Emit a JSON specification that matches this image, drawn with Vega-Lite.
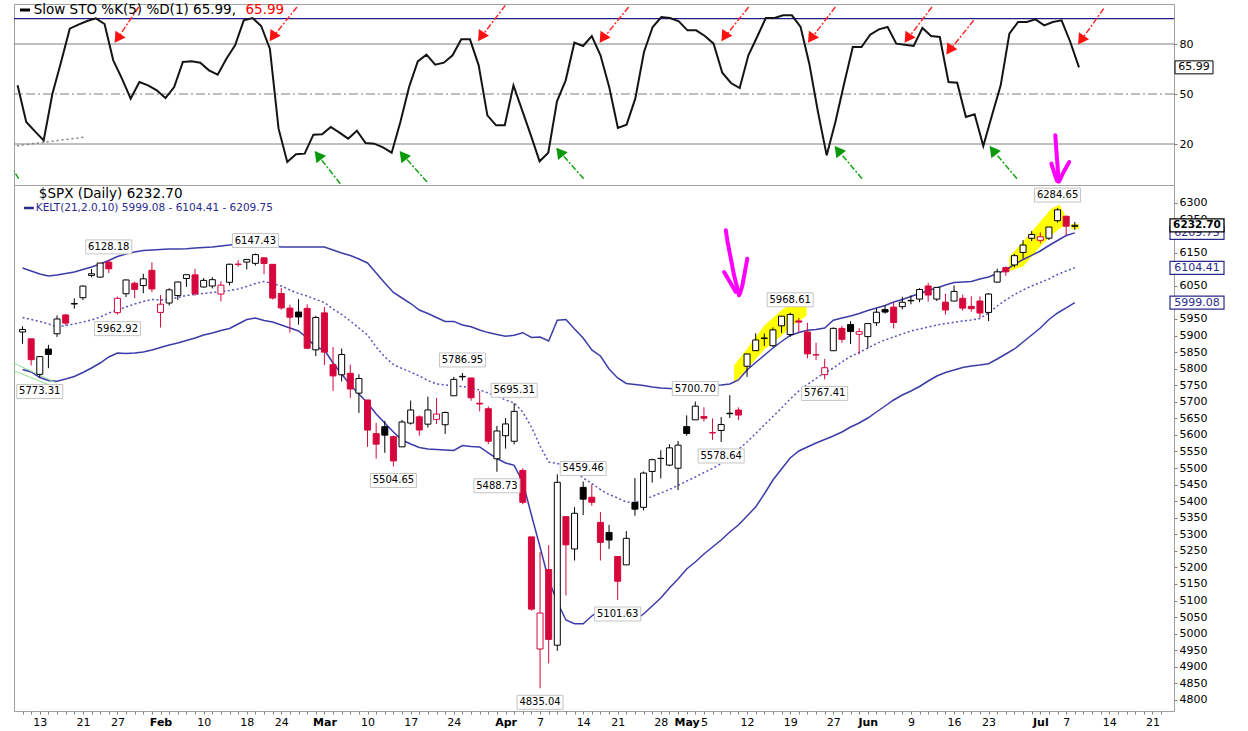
{
  "$schema": "https://vega.github.io/schema/vega-lite/v6.json",
  "background": "white",
  "padding": {"left": 12, "top": 2, "right": 0, "bottom": 0},
  "bounds": "flush",
  "spacing": 0,
  "config": {
    "font": "DejaVu Sans",
    "view": {"stroke": "#a0a0a0"},
    "axis": {"labelFont": "DejaVu Sans", "labelFontSize": 11, "labelColor": "#000000", "tickColor": "#808080", "domain": false, "grid": false, "labelOverlap": false},
    "axisX": {"labelOverlap": false, "labelFlush": false, "labelBound": false},
    "axisY": {"labelOverlap": false, "labelFlush": false, "labelBound": false}
  },
  "datasets": {
    "spx": [
      {"i":0,"d":"2025-01-08","o":5910.7,"h":5927.9,"l":5874.8,"c":5918.25,"pc":5909.03,"k":55.2,"ku":6103.8,"km":5954.4,"kl":5797.4},
      {"i":1,"d":"2025-01-10","o":5890.0,"h":5890.5,"l":5809.4,"c":5827.04,"pc":5918.25,"k":33.2,"ku":6094.7,"km":5948.3,"kl":5789.9},
      {"i":2,"d":"2025-01-13","o":5782.8,"h":5838.2,"l":5773.31,"c":5836.22,"pc":5827.04,"k":27.6,"ku":6085.7,"km":5942.3,"kl":5773.3},
      {"i":3,"d":"2025-01-14","o":5859.0,"h":5871.9,"l":5801.3,"c":5842.91,"pc":5836.22,"k":22.2,"ku":6079.6,"km":5934.8,"kl":5764.2},
      {"i":4,"d":"2025-01-15","o":5905.2,"h":5960.6,"l":5895.7,"c":5949.91,"pc":5842.91,"k":50,"ku":6082.7,"km":5925.7,"kl":5761.8},
      {"i":5,"d":"2025-01-16","o":5962.0,"h":5964.7,"l":5930.9,"c":5937.34,"pc":5949.91,"k":69.2,"ku":6087.2,"km":5930.2,"kl":5768.7},
      {"i":6,"d":"2025-01-17","o":5995.0,"h":6012.0,"l":5981.0,"c":5996.66,"pc":5937.34,"k":89.2,"ku":6091.7,"km":5934.8,"kl":5776.3},
      {"i":7,"d":"2025-01-21","o":6014.1,"h":6051.5,"l":6006.9,"c":6049.24,"pc":5996.66,"k":91.6,"ku":6099.3,"km":5940.8,"kl":5788.4},
      {"i":8,"d":"2025-01-22","o":6081.4,"h":6100.8,"l":6076.1,"c":6086.37,"pc":6049.24,"k":93.8,"ku":6106.8,"km":5946.8,"kl":5801.9},
      {"i":9,"d":"2025-01-23","o":6076.3,"h":6118.7,"l":6074.7,"c":6118.71,"pc":6086.37,"k":95.4,"ku":6115.9,"km":5955.9,"kl":5817},
      {"i":10,"d":"2025-01-24","o":6121.4,"h":6128.18,"l":6088.7,"c":6101.24,"pc":6118.71,"k":92,"ku":6126.4,"km":5968,"kl":5835.2},
      {"i":11,"d":"2025-01-27","o":5969.0,"h":6017.2,"l":5962.92,"c":6012.28,"pc":6101.24,"k":70.2,"ku":6138.5,"km":5977,"kl":5847.2},
      {"i":12,"d":"2025-01-28","o":6026.0,"h":6069.1,"l":6016.3,"c":6067.70,"pc":6012.28,"k":59.2,"ku":6146.1,"km":5986.1,"kl":5845.7},
      {"i":13,"d":"2025-01-29","o":6057.7,"h":6062.8,"l":6012.9,"c":6039.31,"pc":6067.70,"k":47.2,"ku":6152.1,"km":5995.1,"kl":5847.2},
      {"i":14,"d":"2025-01-30","o":6050.8,"h":6086.6,"l":6027.5,"c":6071.17,"pc":6039.31,"k":57.2,"ku":6156.6,"km":6002.7,"kl":5850.2},
      {"i":15,"d":"2025-01-31","o":6096.8,"h":6120.9,"l":6030.9,"c":6040.53,"pc":6071.17,"k":55.2,"ku":6158.1,"km":6008.7,"kl":5856.3},
      {"i":16,"d":"2025-02-03","o":5969.7,"h":6022.1,"l":5923.9,"c":5994.57,"pc":6040.53,"k":52.2,"ku":6159.6,"km":6007.2,"kl":5863.8},
      {"i":17,"d":"2025-02-04","o":5998.1,"h":6042.5,"l":5990.9,"c":6037.88,"pc":5994.57,"k":47.6,"ku":6161.1,"km":6008.7,"kl":5871.4},
      {"i":18,"d":"2025-02-05","o":6020.5,"h":6062.9,"l":6007.1,"c":6061.48,"pc":6037.88,"k":54.2,"ku":6161.1,"km":6014.8,"kl":5877.4},
      {"i":19,"d":"2025-02-06","o":6072.2,"h":6084.0,"l":6046.8,"c":6083.57,"pc":6061.48,"k":69.2,"ku":6162.1,"km":6020.8,"kl":5885},
      {"i":20,"d":"2025-02-07","o":6083.1,"h":6101.3,"l":6019.9,"c":6025.99,"pc":6083.57,"k":69.6,"ku":6164.2,"km":6023.8,"kl":5892.5},
      {"i":21,"d":"2025-02-10","o":6046.4,"h":6073.4,"l":6044.8,"c":6066.44,"pc":6025.99,"k":68.8,"ku":6165.7,"km":6026.8,"kl":5901.6},
      {"i":22,"d":"2025-02-11","o":6049.3,"h":6076.3,"l":6042.3,"c":6068.50,"pc":6066.44,"k":64.2,"ku":6167.2,"km":6029.8,"kl":5907.6},
      {"i":23,"d":"2025-02-12","o":6025.1,"h":6063.6,"l":6003.0,"c":6051.97,"pc":6068.50,"k":61.6,"ku":6170.2,"km":6032.9,"kl":5915.1},
      {"i":24,"d":"2025-02-13","o":6060.6,"h":6116.9,"l":6051.0,"c":6115.07,"pc":6051.97,"k":71.2,"ku":6173.2,"km":6035.9,"kl":5921.2},
      {"i":25,"d":"2025-02-14","o":6115.5,"h":6127.5,"l":6107.6,"c":6114.63,"pc":6115.07,"k":79.2,"ku":6177.1,"km":6040.4,"kl":5934.8},
      {"i":26,"d":"2025-02-18","o":6121.6,"h":6129.6,"l":6099.5,"c":6129.58,"pc":6114.63,"k":94.2,"ku":6178.4,"km":6048,"kl":5948.3},
      {"i":27,"d":"2025-02-19","o":6117.8,"h":6147.43,"l":6111.2,"c":6144.15,"pc":6129.58,"k":95.6,"ku":6179.3,"km":6057,"kl":5952.9},
      {"i":28,"d":"2025-02-20","o":6134.5,"h":6134.5,"l":6084.6,"c":6117.52,"pc":6144.15,"k":90.8,"ku":6176.2,"km":6063,"kl":5945.3},
      {"i":29,"d":"2025-02-21","o":6114.8,"h":6114.8,"l":6008.6,"c":6013.13,"pc":6117.52,"k":77.2,"ku":6171.7,"km":6057,"kl":5940.8},
      {"i":30,"d":"2025-02-24","o":6026.7,"h":6043.7,"l":5977.8,"c":5983.25,"pc":6013.13,"k":29.2,"ku":6167.2,"km":6049.5,"kl":5931.7},
      {"i":31,"d":"2025-02-25","o":5982.7,"h":5992.7,"l":5908.5,"c":5955.25,"pc":5983.25,"k":9.2,"ku":6167.2,"km":6037.4,"kl":5922.7},
      {"i":32,"d":"2025-02-26","o":5970.9,"h":6009.8,"l":5932.7,"c":5956.06,"pc":5955.25,"k":13.8,"ku":6167.2,"km":6026.8,"kl":5913.6},
      {"i":33,"d":"2025-02-27","o":5981.9,"h":5994.0,"l":5858.8,"c":5861.57,"pc":5956.06,"k":14.2,"ku":6167.2,"km":6019.3,"kl":5892.5},
      {"i":34,"d":"2025-02-28","o":5856.7,"h":5959.4,"l":5837.7,"c":5954.50,"pc":5861.57,"k":25.6,"ku":6167.2,"km":6008.7,"kl":5865.3},
      {"i":35,"d":"2025-03-03","o":5968.3,"h":5986.1,"l":5810.9,"c":5849.72,"pc":5954.50,"k":25.8,"ku":6167.2,"km":5999.7,"kl":5856.3},
      {"i":36,"d":"2025-03-04","o":5811.9,"h":5865.1,"l":5732.6,"c":5778.15,"pc":5849.72,"k":30.2,"ku":6158.1,"km":5980,"kl":5817},
      {"i":37,"d":"2025-03-05","o":5781.4,"h":5860.6,"l":5761.3,"c":5842.63,"pc":5778.15,"k":26.8,"ku":6149.1,"km":5963.4,"kl":5783.8},
      {"i":38,"d":"2025-03-06","o":5785.9,"h":5812.1,"l":5711.6,"c":5738.52,"pc":5842.63,"k":23.2,"ku":6141.5,"km":5943.8,"kl":5750.6},
      {"i":39,"d":"2025-03-07","o":5726.0,"h":5783.0,"l":5666.3,"c":5770.20,"pc":5738.52,"k":28,"ku":6131,"km":5922.7,"kl":5723.5},
      {"i":40,"d":"2025-03-10","o":5705.4,"h":5705.4,"l":5564.0,"c":5614.56,"pc":5770.20,"k":20.6,"ku":6118.9,"km":5901.6,"kl":5696.3},
      {"i":41,"d":"2025-03-11","o":5603.7,"h":5636.3,"l":5528.4,"c":5572.07,"pc":5614.56,"k":20.2,"ku":6088.7,"km":5865.3,"kl":5663.1},
      {"i":42,"d":"2025-03-12","o":5624.8,"h":5642.2,"l":5546.1,"c":5599.30,"pc":5572.07,"k":18,"ku":6058.5,"km":5835.2,"kl":5635.9},
      {"i":43,"d":"2025-03-13","o":5594.5,"h":5597.8,"l":5504.65,"c":5521.52,"pc":5599.30,"k":14.8,"ku":6029.8,"km":5812.5,"kl":5608.8},
      {"i":44,"d":"2025-03-14","o":5563.9,"h":5645.3,"l":5563.9,"c":5638.94,"pc":5521.52,"k":33.2,"ku":6013.2,"km":5800.4,"kl":5584.6},
      {"i":45,"d":"2025-03-17","o":5635.6,"h":5703.5,"l":5631.1,"c":5675.12,"pc":5638.94,"k":54.2,"ku":5996.6,"km":5789.9,"kl":5572.5},
      {"i":46,"d":"2025-03-18","o":5654.5,"h":5659.0,"l":5597.8,"c":5614.66,"pc":5675.12,"k":69.6,"ku":5977,"km":5777.8,"kl":5562},
      {"i":47,"d":"2025-03-19","o":5632.4,"h":5715.3,"l":5622.2,"c":5675.29,"pc":5614.66,"k":73.6,"ku":5966.5,"km":5764.2,"kl":5557.4},
      {"i":48,"d":"2025-03-20","o":5646.9,"h":5711.2,"l":5632.6,"c":5662.89,"pc":5675.29,"k":67.6,"ku":5954.4,"km":5753.7,"kl":5555.9},
      {"i":49,"d":"2025-03-21","o":5630.7,"h":5670.8,"l":5603.1,"c":5667.56,"pc":5662.89,"k":68.8,"ku":5942.3,"km":5750.6,"kl":5554.4},
      {"i":50,"d":"2025-03-24","o":5718.1,"h":5775.1,"l":5718.1,"c":5767.57,"pc":5667.56,"k":73.2,"ku":5942.6,"km":5747.6,"kl":5552.9},
      {"i":51,"d":"2025-03-25","o":5775.1,"h":5786.95,"l":5764.0,"c":5776.65,"pc":5767.57,"k":82.8,"ku":5931.7,"km":5746.1,"kl":5568},
      {"i":52,"d":"2025-03-26","o":5771.7,"h":5772.4,"l":5703.0,"c":5712.20,"pc":5776.65,"k":82.8,"ku":5926.6,"km":5741.6,"kl":5565},
      {"i":53,"d":"2025-03-27","o":5695.6,"h":5732.3,"l":5670.9,"c":5693.31,"pc":5712.20,"k":67.2,"ku":5916.7,"km":5735.5,"kl":5563.5},
      {"i":54,"d":"2025-03-28","o":5679.0,"h":5685.9,"l":5572.4,"c":5580.94,"pc":5693.31,"k":37.2,"ku":5908.8,"km":5726.5,"kl":5545.4},
      {"i":55,"d":"2025-03-31","o":5527.9,"h":5627.0,"l":5488.73,"c":5611.85,"pc":5580.94,"k":31.2,"ku":5903.1,"km":5717.4,"kl":5528.8},
      {"i":56,"d":"2025-04-01","o":5597.5,"h":5650.6,"l":5558.5,"c":5633.07,"pc":5611.85,"k":31.2,"ku":5897.6,"km":5705.4,"kl":5515.2},
      {"i":57,"d":"2025-04-02","o":5580.8,"h":5695.31,"l":5571.5,"c":5670.97,"pc":5633.07,"k":55.2,"ku":5900.7,"km":5696.3,"kl":5508.2},
      {"i":58,"d":"2025-04-03","o":5492.7,"h":5499.5,"l":5390.8,"c":5396.52,"pc":5670.97,"k":40.2,"ku":5908.5,"km":5669.1,"kl":5457.8},
      {"i":59,"d":"2025-04-04","o":5292.1,"h":5292.1,"l":5069.9,"c":5074.08,"pc":5396.52,"k":25.2,"ku":5894,"km":5623.9,"kl":5358.2},
      {"i":60,"d":"2025-04-07","o":4953.8,"h":5246.6,"l":4835.04,"c":5062.25,"pc":5074.08,"k":9.6,"ku":5895.5,"km":5566.5,"kl":5261.6},
      {"i":61,"d":"2025-04-08","o":5193.6,"h":5267.5,"l":4910.4,"c":4982.77,"pc":5062.25,"k":14.8,"ku":5883.4,"km":5518.2,"kl":5162},
      {"i":62,"d":"2025-04-09","o":4965.3,"h":5481.3,"l":4948.4,"c":5456.90,"pc":4982.77,"k":45.6,"ku":5945.9,"km":5513.7,"kl":5095.6},
      {"i":63,"d":"2025-04-10","o":5353.2,"h":5353.2,"l":5115.3,"c":5268.05,"pc":5456.90,"k":58.2,"ku":5948.3,"km":5507.6,"kl":5041.3},
      {"i":64,"d":"2025-04-11","o":5255.6,"h":5381.5,"l":5220.8,"c":5363.36,"pc":5268.05,"k":80.8,"ku":5919.7,"km":5491,"kl":5030.1},
      {"i":65,"d":"2025-04-14","o":5441.6,"h":5459.46,"l":5358.0,"c":5405.97,"pc":5363.36,"k":78.8,"ku":5892.5,"km":5469.9,"kl":5030.1},
      {"i":66,"d":"2025-04-15","o":5411.9,"h":5450.4,"l":5386.4,"c":5396.63,"pc":5405.97,"k":84.8,"ku":5856.3,"km":5453.3,"kl":5053.4},
      {"i":67,"d":"2025-04-16","o":5335.8,"h":5367.2,"l":5220.8,"c":5275.70,"pc":5396.63,"k":73.2,"ku":5838.2,"km":5435.2,"kl":5071.5},
      {"i":68,"d":"2025-04-17","o":5305.5,"h":5328.3,"l":5255.6,"c":5282.70,"pc":5275.70,"k":54.2,"ku":5798.9,"km":5420.1,"kl":5074.5},
      {"i":69,"d":"2025-04-21","o":5232.9,"h":5232.9,"l":5101.63,"c":5158.20,"pc":5282.70,"k":29.6,"ku":5771.8,"km":5409.5,"kl":5065.4},
      {"i":70,"d":"2025-04-22","o":5207.7,"h":5309.6,"l":5207.7,"c":5287.76,"pc":5158.20,"k":31.6,"ku":5755.2,"km":5397.5,"kl":5044.3},
      {"i":71,"d":"2025-04-23","o":5395.9,"h":5469.7,"l":5356.0,"c":5375.86,"pc":5287.76,"k":47.2,"ku":5752.1,"km":5396,"kl":5041.3},
      {"i":72,"d":"2025-04-24","o":5381.4,"h":5489.4,"l":5371.9,"c":5484.77,"pc":5375.86,"k":75.2,"ku":5749.1,"km":5403.5,"kl":5059.4},
      {"i":73,"d":"2025-04-25","o":5489.7,"h":5528.1,"l":5455.9,"c":5525.21,"pc":5484.77,"k":90.2,"ku":5744.6,"km":5414.1,"kl":5083.5},
      {"i":74,"d":"2025-04-28","o":5529.2,"h":5553.7,"l":5468.6,"c":5528.75,"pc":5525.21,"k":96.2,"ku":5741.6,"km":5424.6,"kl":5107.7},
      {"i":75,"d":"2025-04-29","o":5508.9,"h":5571.9,"l":5505.7,"c":5560.83,"pc":5528.75,"k":95.6,"ku":5740.1,"km":5435.2,"kl":5137.9},
      {"i":76,"d":"2025-04-30","o":5499.4,"h":5581.8,"l":5433.2,"c":5569.06,"pc":5560.83,"k":93.6,"ku":5738.6,"km":5447.3,"kl":5165},
      {"i":77,"d":"2025-05-01","o":5625.1,"h":5658.9,"l":5597.4,"c":5604.14,"pc":5569.06,"k":88.2,"ku":5738.6,"km":5460.9,"kl":5195.2},
      {"i":78,"d":"2025-05-02","o":5645.5,"h":5700.70,"l":5645.0,"c":5686.67,"pc":5604.14,"k":88.2,"ku":5740.1,"km":5472.9,"kl":5216.4},
      {"i":79,"d":"2025-05-05","o":5655.3,"h":5683.3,"l":5640.0,"c":5650.38,"pc":5686.67,"k":84.8,"ku":5744.6,"km":5486.5,"kl":5240.5},
      {"i":80,"d":"2025-05-06","o":5605.9,"h":5649.6,"l":5584.8,"c":5606.91,"pc":5650.38,"k":80.2,"ku":5749.1,"km":5498.6,"kl":5261.6},
      {"i":81,"d":"2025-05-07","o":5613.4,"h":5654.2,"l":5578.64,"c":5631.28,"pc":5606.91,"k":62.8,"ku":5750.6,"km":5513.7,"kl":5282.8},
      {"i":82,"d":"2025-05-08","o":5665.4,"h":5720.1,"l":5651.0,"c":5663.94,"pc":5631.28,"k":56.6,"ku":5753.7,"km":5534.8,"kl":5306.9},
      {"i":83,"d":"2025-05-09","o":5675.0,"h":5683.0,"l":5644.4,"c":5659.91,"pc":5663.94,"k":53.6,"ku":5765.7,"km":5555.9,"kl":5328},
      {"i":84,"d":"2025-05-12","o":5807.2,"h":5845.9,"l":5775.2,"c":5844.19,"pc":5659.91,"k":73.2,"ku":5795.9,"km":5578.6,"kl":5355.2},
      {"i":85,"d":"2025-05-13","o":5854.2,"h":5906.6,"l":5853.3,"c":5886.55,"pc":5844.19,"k":84.2,"ku":5818.5,"km":5604.2,"kl":5382.4},
      {"i":86,"d":"2025-05-14","o":5891.0,"h":5906.0,"l":5868.4,"c":5892.58,"pc":5886.55,"k":95.6,"ku":5840.3,"km":5629.9,"kl":5421.6},
      {"i":87,"d":"2025-05-15","o":5869.2,"h":5924.2,"l":5865.2,"c":5916.93,"pc":5892.58,"k":95.6,"ku":5862.3,"km":5655.6,"kl":5463.9},
      {"i":88,"d":"2025-05-16","o":5929.3,"h":5958.6,"l":5907.4,"c":5958.38,"pc":5916.93,"k":97.2,"ku":5881.9,"km":5681.2,"kl":5497.1},
      {"i":89,"d":"2025-05-19","o":5902.9,"h":5968.61,"l":5895.7,"c":5963.60,"pc":5958.38,"k":97.2,"ku":5900,"km":5708.4,"kl":5530.3},
      {"i":90,"d":"2025-05-20","o":5944.0,"h":5953.1,"l":5909.3,"c":5940.46,"pc":5963.60,"k":90.2,"ku":5909.1,"km":5732.5,"kl":5551.4},
      {"i":91,"d":"2025-05-21","o":5910.5,"h":5938.4,"l":5830.9,"c":5844.61,"pc":5940.46,"k":68.2,"ku":5915.7,"km":5752.1,"kl":5563.5},
      {"i":92,"d":"2025-05-22","o":5841.3,"h":5878.1,"l":5825.8,"c":5842.01,"pc":5844.61,"k":39.2,"ku":5918.2,"km":5770.3,"kl":5575.6},
      {"i":93,"d":"2025-05-23","o":5781.9,"h":5829.5,"l":5767.41,"c":5802.82,"pc":5842.01,"k":13.2,"ku":5922.7,"km":5786.9,"kl":5586.1},
      {"i":94,"d":"2025-05-27","o":5854.1,"h":5924.3,"l":5854.1,"c":5921.54,"pc":5802.82,"k":33.2,"ku":5945.9,"km":5801.9,"kl":5596.7},
      {"i":95,"d":"2025-05-28","o":5921.4,"h":5929.0,"l":5878.1,"c":5888.55,"pc":5921.54,"k":56.2,"ku":5952.9,"km":5820.1,"kl":5608.8},
      {"i":96,"d":"2025-05-29","o":5933.2,"h":5943.0,"l":5874.1,"c":5912.17,"pc":5888.55,"k":78.2,"ku":5958.9,"km":5836.7,"kl":5623.9},
      {"i":97,"d":"2025-05-30","o":5903.7,"h":5922.1,"l":5843.7,"c":5911.69,"pc":5912.17,"k":78.2,"ku":5966.5,"km":5848.7,"kl":5635.9},
      {"i":98,"d":"2025-06-02","o":5896.7,"h":5937.4,"l":5861.4,"c":5935.94,"pc":5911.69,"k":85.6,"ku":5975.5,"km":5862.3,"kl":5651},
      {"i":99,"d":"2025-06-03","o":5938.6,"h":5981.4,"l":5929.0,"c":5970.37,"pc":5935.94,"k":88.8,"ku":5983.1,"km":5875.9,"kl":5669.1},
      {"i":100,"d":"2025-06-04","o":5978.2,"h":5990.5,"l":5966.1,"c":5970.81,"pc":5970.37,"k":90.2,"ku":5990.6,"km":5886.5,"kl":5687.2},
      {"i":101,"d":"2025-06-05","o":5985.7,"h":5999.7,"l":5921.2,"c":5939.30,"pc":5970.81,"k":80.2,"ku":6001.2,"km":5895.5,"kl":5705.4},
      {"i":102,"d":"2025-06-06","o":5987.1,"h":6016.9,"l":5978.6,"c":6000.36,"pc":5939.30,"k":79.6,"ku":6008.7,"km":5904.6,"kl":5720.4},
      {"i":103,"d":"2025-06-09","o":6004.6,"h":6021.3,"l":5994.2,"c":6005.88,"pc":6000.36,"k":78.8,"ku":6017.8,"km":5913.6,"kl":5732.5},
      {"i":104,"d":"2025-06-10","o":6009.9,"h":6043.0,"l":6000.3,"c":6038.81,"pc":6005.88,"k":89.6,"ku":6026.8,"km":5919.7,"kl":5746.1},
      {"i":105,"d":"2025-06-11","o":6049.4,"h":6059.4,"l":6002.3,"c":6022.24,"pc":6038.81,"k":84.8,"ku":6035.9,"km":5925.7,"kl":5762.7},
      {"i":106,"d":"2025-06-12","o":6009.9,"h":6045.4,"l":6003.9,"c":6045.26,"pc":6022.24,"k":84.2,"ku":6043.4,"km":5931.7,"kl":5777.8},
      {"i":107,"d":"2025-06-13","o":6000.6,"h":6026.2,"l":5963.2,"c":5976.97,"pc":6045.26,"k":57.2,"ku":6052.5,"km":5935.7,"kl":5788.4},
      {"i":108,"d":"2025-06-16","o":6004.0,"h":6050.8,"l":6004.0,"c":6033.11,"pc":5976.97,"k":56.8,"ku":6059.7,"km":5939.9,"kl":5795.9},
      {"i":109,"d":"2025-06-17","o":6012.2,"h":6023.3,"l":5974.8,"c":5982.72,"pc":6033.11,"k":36.2,"ku":6061.5,"km":5943.8,"kl":5803.5},
      {"i":110,"d":"2025-06-18","o":5987.9,"h":6018.3,"l":5971.9,"c":5980.87,"pc":5982.72,"k":37.8,"ku":6063.3,"km":5946.8,"kl":5808},
      {"i":111,"d":"2025-06-20","o":6004.2,"h":6018.2,"l":5952.6,"c":5967.84,"pc":5980.87,"k":18.8,"ku":6070.6,"km":5951.4,"kl":5811},
      {"i":112,"d":"2025-06-23","o":5969.7,"h":6028.2,"l":5943.2,"c":6025.17,"pc":5967.84,"k":37.2,"ku":6076.6,"km":5968,"kl":5814.9},
      {"i":113,"d":"2025-06-24","o":6061.2,"h":6101.8,"l":6059.4,"c":6092.18,"pc":6025.17,"k":55.2,"ku":6087.2,"km":5989.1,"kl":5829.1},
      {"i":114,"d":"2025-06-25","o":6104.9,"h":6108.5,"l":6080.1,"c":6092.16,"pc":6092.18,"k":86.2,"ku":6097.8,"km":6007.2,"kl":5844.2},
      {"i":115,"d":"2025-06-26","o":6112.9,"h":6146.5,"l":6106.1,"c":6141.02,"pc":6092.16,"k":93.2,"ku":6114.4,"km":6023.8,"kl":5859.3},
      {"i":116,"d":"2025-06-27","o":6150.7,"h":6187.7,"l":6132.3,"c":6173.07,"pc":6141.02,"k":93.2,"ku":6129.5,"km":6037.4,"kl":5880.4},
      {"i":117,"d":"2025-06-30","o":6193.4,"h":6215.1,"l":6185.1,"c":6204.95,"pc":6173.07,"k":94.8,"ku":6142.1,"km":6049.5,"kl":5901.6},
      {"i":118,"d":"2025-07-01","o":6187.3,"h":6210.8,"l":6177.9,"c":6198.01,"pc":6204.95,"k":91.2,"ku":6155.1,"km":6060,"kl":5922.7},
      {"i":119,"d":"2025-07-02","o":6193.8,"h":6227.6,"l":6188.2,"c":6227.42,"pc":6198.01,"k":93.2,"ku":6171.7,"km":6070.6,"kl":5948.3},
      {"i":120,"d":"2025-07-03","o":6246.5,"h":6284.65,"l":6240.9,"c":6279.35,"pc":6227.42,"k":94.2,"ku":6186.8,"km":6084.2,"kl":5968},
      {"i":121,"d":"2025-07-07","o":6259.8,"h":6262.3,"l":6201.0,"c":6229.98,"pc":6279.35,"k":81.2,"ku":6201.9,"km":6094.7,"kl":5983.1},
      {"i":122,"d":"2025-07-08","o":6229.5,"h":6242.7,"l":6219.0,"c":6232.70,"pc":6229.98,"k":65.99,"ku":6209.75,"km":6104.41,"kl":5999.08}
    ],
    "hiLabels": [
      {"i":10,"p":6128.18,"t":"6128.18"},{"i":27,"p":6147.43,"t":"6147.43"},{"i":51,"p":5786.95,"t":"5786.95"},
      {"i":57,"p":5695.31,"t":"5695.31"},{"i":65,"p":5459.46,"t":"5459.46"},{"i":78,"p":5700.70,"t":"5700.70"},
      {"i":89,"p":5968.61,"t":"5968.61"},{"i":120,"p":6284.65,"t":"6284.65"}
    ],
    "loLabels": [
      {"i":2,"p":5773.31,"t":"5773.31"},{"i":11,"p":5962.92,"t":"5962.92"},{"i":43,"p":5504.65,"t":"5504.65"},
      {"i":55,"p":5488.73,"t":"5488.73"},{"i":60,"p":4835.04,"t":"4835.04"},{"i":69,"p":5101.63,"t":"5101.63"},
      {"i":81,"p":5578.64,"t":"5578.64"},{"i":93,"p":5767.41,"t":"5767.41"}
    ],
    "redArrows": [
      {"ti":13.92,"tv":102.2,"hi":11.23,"hv":81.2,"ci":11.61,"cv":84.2},
      {"ti":32.11,"tv":102.2,"hi":29.05,"hv":82.2,"ci":29.43,"cv":85.2},
      {"ti":56.06,"tv":103.2,"hi":53.0,"hv":82.2,"ci":53.38,"cv":85.2},
      {"ti":70.24,"tv":102.2,"hi":66.98,"hv":81.2,"ci":67.36,"cv":84.2},
      {"ti":84.03,"tv":102.2,"hi":80.97,"hv":82.2,"ci":81.35,"cv":85.2},
      {"ti":93.99,"tv":102.2,"hi":90.93,"hv":81.2,"ci":91.31,"cv":84.2},
      {"ti":105.1,"tv":102.2,"hi":102.03,"hv":81.2,"ci":102.41,"cv":84.2},
      {"ti":109.9,"tv":94.2,"hi":106.83,"hv":74.2,"ci":107.21,"cv":77.2},
      {"ti":124.84,"tv":101.2,"hi":121.97,"hv":80.2,"ci":122.35,"cv":83.2}
    ],
    "greenArrows": [
      {"ti":0.13,"tv":-0.8,"hi":-1.79,"hv":15.2},
      {"ti":37.09,"tv":-3.8,"hi":34.22,"hv":15.2,"ci":34.65,"cv":12.4},
      {"ti":47.06,"tv":-2.8,"hi":43.99,"hv":15.2,"ci":44.42,"cv":12.4},
      {"ti":65.07,"tv":-0.8,"hi":62.0,"hv":17.2,"ci":62.43,"cv":14.4},
      {"ti":97.06,"tv":-0.8,"hi":93.99,"hv":18.2,"ci":94.42,"cv":15.4},
      {"ti":114.87,"tv":-0.8,"hi":111.8,"hv":18.2,"ci":112.23,"cv":15.4}
    ],
    "magentaPrice": [
      {"g":"a","o":1,"i":81.54,"p":6217.6},{"g":"a","o":2,"i":81.74,"p":6182.3},{"g":"a","o":3,"i":82.12,"p":6131.9},
      {"g":"a","o":4,"i":82.49,"p":6081.8},{"g":"a","o":5,"i":82.89,"p":6041.3},{"g":"a","o":6,"i":83.07,"p":6021.4},
      {"g":"b","o":1,"i":81.34,"p":6091.7},{"g":"b","o":2,"i":82.69,"p":6031.3},
      {"g":"c","o":1,"i":84.03,"p":6131.9},{"g":"c","o":2,"i":83.46,"p":6051.6},{"g":"c","o":3,"i":83.18,"p":6026.2}
    ],
    "magentaStoch": [
      {"g":"a","o":1,"i":119.28,"v":25.2},{"g":"a","o":2,"i":119.47,"v":11.2},{"g":"a","o":3,"i":119.67,"v":-2.6},
      {"g":"b","o":1,"i":118.82,"v":8.2},{"g":"b","o":2,"i":119.47,"v":-2.2},
      {"g":"c","o":1,"i":120.88,"v":9.2},{"g":"c","o":2,"i":120.23,"v":3.2},{"g":"c","o":3,"i":119.74,"v":-2.2}
    ],
    "highlights": [
      {"g":1,"i":82.5,"lo":5757,"hi":5810},{"g":1,"i":84,"lo":5800,"hi":5860},{"g":1,"i":86,"lo":5858,"hi":5930},
      {"g":1,"i":88,"lo":5900,"hi":5976},{"g":1,"i":89.5,"lo":5935,"hi":6002},{"g":1,"i":90.9,"lo":5960,"hi":6012},
      {"g":2,"i":114.4,"lo":6095,"hi":6137},{"g":2,"i":116,"lo":6108,"hi":6183},{"g":2,"i":118,"lo":6169,"hi":6244},
      {"g":2,"i":119.3,"lo":6203,"hi":6283},{"g":2,"i":120.2,"lo":6222,"hi":6295},{"g":2,"i":120.8,"lo":6232,"hi":6268},
      {"g":3,"i":121.6,"lo":6221,"hi":6237},{"g":3,"i":122.5,"lo":6221,"hi":6237}
    ],
    "navyTags": [
      {"p":6209.75,"t":"6209.75"},{"p":6104.41,"t":"6104.41"},{"p":5999.08,"t":"5999.08"}
    ],
    "one": [{}]
  },
  "vconcat": [
    {
      "width": 1160,
      "height": 181,
      "layer": [
        {
          "data": {"values": [{"v": 80}, {"v": 20}]},
          "mark": {"type": "rule", "color": "#808080", "strokeWidth": 1},
          "encoding": {
            "y": {"field": "v", "type": "quantitative", "scale": {"domain": [-4.6, 104], "nice": false, "zero": false}, "title": null,
                  "axis": {"orient": "right", "values": [20, 50, 80], "tickCount": 20, "format": "d", "tickSize": 3, "labelPadding": 2, "labelFontSize": 11, "labelOverlap": false}}
          }
        },
        {
          "data": {"name": "one"},
          "mark": {"type": "rule", "color": "#808080", "strokeWidth": 1, "strokeDash": [9, 3, 2, 3]},
          "encoding": {"y": {"datum": 50, "type": "quantitative", "scale": {"domain": [-4.6, 104], "nice": false, "zero": false}, "title": null}}
        },
        {
          "data": {"name": "one"},
          "mark": {"type": "rule", "color": "#1c1c86", "strokeWidth": 1.2},
          "encoding": {"y": {"datum": 95.2, "type": "quantitative", "scale": {"domain": [-4.6, 104], "nice": false, "zero": false}, "title": null}}
        },
        {
          "data": {"name": "one"},
          "mark": {"type": "rule", "color": "#808080", "strokeWidth": 1.5, "strokeDash": [2, 3], "clip": true},
          "encoding": {
            "x": {"datum": -1.787, "type": "quantitative", "scale": {"domain": [-0.41, 132.92], "nice": false, "zero": false}, "axis": null},
            "x2": {"datum": 7.8},
            "y": {"datum": 17.8, "type": "quantitative", "scale": {"domain": [-4.6, 104], "nice": false, "zero": false}, "title": null},
            "y2": {"datum": 24.2}
          }
        },
        {
          "data": {"name": "spx"},
          "mark": {"type": "line", "color": "#141414", "strokeWidth": 2},
          "encoding": {
            "x": {"field": "i", "type": "quantitative", "scale": {"domain": [-0.41, 132.92], "nice": false, "zero": false}, "axis": null},
            "y": {"field": "k", "type": "quantitative", "scale": {"domain": [-4.6, 104], "nice": false, "zero": false}, "title": null}
          }
        },
        {
          "data": {"name": "redArrows"},
          "mark": {"type": "rule", "color": "#ff2a2a", "strokeWidth": 1.5, "strokeDash": [6, 2, 2, 2]},
          "encoding": {
            "x": {"field": "ti", "type": "quantitative", "scale": {"domain": [-0.41, 132.92], "nice": false, "zero": false}, "axis": null},
            "x2": {"field": "hi"},
            "y": {"field": "tv", "type": "quantitative", "scale": {"domain": [-4.6, 104], "nice": false, "zero": false}, "title": null},
            "y2": {"field": "hv"}
          }
        },
        {
          "data": {"name": "redArrows"},
          "mark": {"type": "point", "shape": "triangle", "filled": true, "color": "#ff1010", "opacity": 1, "size": 150, "angle": 214},
          "encoding": {
            "x": {"field": "ci", "type": "quantitative", "scale": {"domain": [-0.41, 132.92], "nice": false, "zero": false}, "axis": null},
            "y": {"field": "cv", "type": "quantitative", "scale": {"domain": [-4.6, 104], "nice": false, "zero": false}, "title": null}
          }
        },
        {
          "data": {"name": "greenArrows"},
          "mark": {"type": "rule", "color": "#13a313", "strokeWidth": 1.5, "strokeDash": [6, 2, 2, 2], "clip": true},
          "encoding": {
            "x": {"field": "ti", "type": "quantitative", "scale": {"domain": [-0.41, 132.92], "nice": false, "zero": false}, "axis": null},
            "x2": {"field": "hi"},
            "y": {"field": "tv", "type": "quantitative", "scale": {"domain": [-4.6, 104], "nice": false, "zero": false}, "title": null},
            "y2": {"field": "hv"}
          }
        },
        {
          "data": {"name": "greenArrows"},
          "mark": {"type": "point", "shape": "triangle", "filled": true, "color": "#0a990a", "opacity": 1, "size": 150, "angle": 322},
          "encoding": {
            "x": {"field": "ci", "type": "quantitative", "scale": {"domain": [-0.41, 132.92], "nice": false, "zero": false}, "axis": null},
            "y": {"field": "cv", "type": "quantitative", "scale": {"domain": [-4.6, 104], "nice": false, "zero": false}, "title": null}
          }
        },
        {
          "data": {"name": "magentaStoch"},
          "mark": {"type": "line", "color": "#ff00ff", "strokeWidth": 4, "strokeCap": "round", "strokeJoin": "round"},
          "encoding": {
            "x": {"field": "i", "type": "quantitative", "scale": {"domain": [-0.41, 132.92], "nice": false, "zero": false}, "axis": null},
            "y": {"field": "v", "type": "quantitative", "scale": {"domain": [-4.6, 104], "nice": false, "zero": false}, "title": null},
            "detail": {"field": "g"},
            "order": {"field": "o"}
          }
        },
        {
          "data": {"name": "one"},
          "mark": {"type": "rule", "color": "#000000", "strokeWidth": 3},
          "encoding": {
            "x": {"datum": 0.28, "type": "quantitative", "scale": {"domain": [-0.41, 132.92], "nice": false, "zero": false}, "axis": null},
            "x2": {"datum": 1.43},
            "y": {"datum": 100.4, "type": "quantitative", "scale": {"domain": [-4.6, 104], "nice": false, "zero": false}, "title": null}
          }
        },
        {
          "data": {"name": "one"},
          "mark": {"type": "text", "text": "Slow STO %K(5) %D(1) 65.99,", "align": "left", "baseline": "middle", "fontSize": 13.5, "color": "#000000"},
          "encoding": {
            "x": {"datum": 1.85, "type": "quantitative", "scale": {"domain": [-0.41, 132.92], "nice": false, "zero": false}, "axis": null},
            "y": {"datum": 100.4, "type": "quantitative", "scale": {"domain": [-4.6, 104], "nice": false, "zero": false}, "title": null}
          }
        },
        {
          "data": {"name": "one"},
          "mark": {"type": "text", "text": "65.99", "align": "left", "baseline": "middle", "fontSize": 13.5, "color": "#ff0000"},
          "encoding": {
            "x": {"datum": 26.2, "type": "quantitative", "scale": {"domain": [-0.41, 132.92], "nice": false, "zero": false}, "axis": null},
            "y": {"datum": 100.4, "type": "quantitative", "scale": {"domain": [-4.6, 104], "nice": false, "zero": false}, "title": null}
          }
        },
        {
          "data": {"name": "one"},
          "mark": {"type": "rect", "fill": "#ffffff", "stroke": "#000000", "strokeWidth": 1, "xOffset": 1, "x2Offset": 39, "yOffset": -6.5, "y2Offset": 6.5},
          "encoding": {
            "x": {"datum": 132.92, "type": "quantitative", "scale": {"domain": [-0.41, 132.92], "nice": false, "zero": false}, "axis": null},
            "x2": {"datum": 132.92},
            "y": {"datum": 65.99, "type": "quantitative", "scale": {"domain": [-4.6, 104], "nice": false, "zero": false}, "title": null},
            "y2": {"datum": 65.99}
          }
        },
        {
          "data": {"name": "one"},
          "mark": {"type": "text", "text": "65.99", "align": "center", "baseline": "middle", "dx": 20, "fontSize": 11, "color": "#000000"},
          "encoding": {
            "x": {"datum": 132.92, "type": "quantitative", "scale": {"domain": [-0.41, 132.92], "nice": false, "zero": false}, "axis": null},
            "y": {"datum": 65.99, "type": "quantitative", "scale": {"domain": [-4.6, 104], "nice": false, "zero": false}, "title": null}
          }
        }
      ]
    },
    {
      "width": 1160,
      "height": 526,
      "layer": [
        {
          "data": {"name": "highlights"},
          "mark": {"type": "area", "color": "#ffff00", "opacity": 1},
          "encoding": {
            "x": {"field": "i", "type": "quantitative", "scale": {"domain": [-0.41, 132.92], "nice": false, "zero": false}, "title": null,
                  "axis": {"orient": "bottom", "tickCount": 300, "values": [0,1,2,3,4,5,6,7,8,9,10,11,12,13,14,15,16,17,18,19,20,21,22,23,24,25,26,27,28,29,30,31,32,33,34,35,36,37,38,39,40,41,42,43,44,45,46,47,48,49,50,51,52,53,54,55,56,57,58,59,60,61,62,63,64,65,66,67,68,69,70,71,72,73,74,75,76,77,78,79,80,81,82,83,84,85,86,87,88,89,90,91,92,93,94,95,96,97,98,99,100,101,102,103,104,105,106,107,108,109,110,111,112,113,114,115,116,117,118,119,120,121,122,123,124,125,126,127,128,129,130,131,132],
                           "labelExpr": "indexof([2,7,11,16,21,26,30,35,40,45,50,56,60,65,69,74,77,79,84,89,94,98,103,108,112,118,121,126,131], datum.value) >= 0 ? ['13','21','27','Feb','10','18','24','Mar','10','17','24','Apr','7','14','21','28','May','5','12','19','27','Jun','9','16','23','Jul','7','14','21'][indexof([2,7,11,16,21,26,30,35,40,45,50,56,60,65,69,74,77,79,84,89,94,98,103,108,112,118,121,126,131], datum.value)] : ''",
                           "labelFontWeight": {"condition": {"test": "indexof([16,35,56,77,98,118], datum.value) >= 0", "value": "bold"}, "value": "normal"},
                           "labelOverlap": false, "labelFlush": false, "labelBound": false, "tickSize": 3, "labelPadding": 2, "labelFontSize": 11}},
            "y": {"field": "lo", "type": "quantitative", "scale": {"domain": [4766.6, 6354.3], "nice": false, "zero": false}, "title": null,
                  "axis": {"orient": "right", "tickCount": 100, "values": [4800,4850,4900,4950,5000,5050,5100,5150,5200,5250,5300,5350,5400,5450,5500,5550,5600,5650,5700,5750,5800,5850,5900,5950,6000,6050,6100,6150,6200,6250,6300],
                           "format": "d", "tickSize": 3, "labelPadding": 2, "labelFontSize": 11, "labelOverlap": false}},
            "y2": {"field": "hi"},
            "detail": {"field": "g"}
          }
        },
        {
          "data": {"name": "spx"},
          "mark": {"type": "line", "color": "#3c3ca8", "strokeWidth": 1.5},
          "encoding": {
            "x": {"field": "i", "type": "quantitative", "scale": {"domain": [-0.41, 132.92], "nice": false, "zero": false}, "title": null},
            "y": {"field": "ku", "type": "quantitative", "scale": {"domain": [4766.6, 6354.3], "nice": false, "zero": false}, "title": null}
          }
        },
        {
          "data": {"name": "spx"},
          "mark": {"type": "line", "color": "#3c3ca8", "strokeWidth": 1.5},
          "encoding": {
            "x": {"field": "i", "type": "quantitative", "scale": {"domain": [-0.41, 132.92], "nice": false, "zero": false}, "title": null},
            "y": {"field": "kl", "type": "quantitative", "scale": {"domain": [4766.6, 6354.3], "nice": false, "zero": false}, "title": null}
          }
        },
        {
          "data": {"name": "spx"},
          "mark": {"type": "line", "color": "#5555bb", "strokeWidth": 1.5, "strokeDash": [2, 2.5]},
          "encoding": {
            "x": {"field": "i", "type": "quantitative", "scale": {"domain": [-0.41, 132.92], "nice": false, "zero": false}, "title": null},
            "y": {"field": "km", "type": "quantitative", "scale": {"domain": [4766.6, 6354.3], "nice": false, "zero": false}, "title": null}
          }
        },
        {
          "data": {"values": [{"x1": -1.787, "p1": 5826, "x2": 3.95, "p2": 5756.7}, {"x1": -1.787, "p1": 5802, "x2": 3.4, "p2": 5747.6}]},
          "mark": {"type": "rule", "color": "#8fe08f", "strokeWidth": 1, "clip": true},
          "encoding": {
            "x": {"field": "x1", "type": "quantitative", "scale": {"domain": [-0.41, 132.92], "nice": false, "zero": false}, "title": null},
            "x2": {"field": "x2"},
            "y": {"field": "p1", "type": "quantitative", "scale": {"domain": [4766.6, 6354.3], "nice": false, "zero": false}, "title": null},
            "y2": {"field": "p2"}
          }
        },
        {
          "data": {"name": "spx"},
          "mark": {"type": "rule", "strokeWidth": 1},
          "encoding": {
            "x": {"field": "i", "type": "quantitative", "scale": {"domain": [-0.41, 132.92], "nice": false, "zero": false}, "title": null},
            "y": {"field": "l", "type": "quantitative", "scale": {"domain": [4766.6, 6354.3], "nice": false, "zero": false}, "title": null},
            "y2": {"field": "h"},
            "color": {"condition": {"test": "datum.c < datum.pc", "value": "#d6073c"}, "value": "#000000"}
          }
        },
        {
          "data": {"name": "spx"},
          "mark": {"type": "bar", "size": 6, "strokeWidth": 1},
          "encoding": {
            "x": {"field": "i", "type": "quantitative", "scale": {"domain": [-0.41, 132.92], "nice": false, "zero": false}, "title": null},
            "y": {"field": "o", "type": "quantitative", "scale": {"domain": [4766.6, 6354.3], "nice": false, "zero": false}, "title": null},
            "y2": {"field": "c"},
            "fill": {"condition": [{"test": "datum.c > datum.o", "value": "#ffffff"}, {"test": "datum.c < datum.pc", "value": "#d6073c"}], "value": "#000000"},
            "stroke": {"condition": {"test": "datum.c < datum.pc", "value": "#d6073c"}, "value": "#000000"}
          }
        },
        {
          "data": {"name": "magentaPrice"},
          "mark": {"type": "line", "color": "#ff00ff", "strokeWidth": 4, "strokeCap": "round", "strokeJoin": "round"},
          "encoding": {
            "x": {"field": "i", "type": "quantitative", "scale": {"domain": [-0.41, 132.92], "nice": false, "zero": false}, "title": null},
            "y": {"field": "p", "type": "quantitative", "scale": {"domain": [4766.6, 6354.3], "nice": false, "zero": false}, "title": null},
            "detail": {"field": "g"},
            "order": {"field": "o"}
          }
        },
        {
          "data": {"name": "hiLabels"},
          "mark": {"type": "rect", "fill": "#ffffff", "stroke": "#c4c4c4", "strokeWidth": 1, "xOffset": -23, "x2Offset": 23, "yOffset": -20, "y2Offset": -6},
          "encoding": {
            "x": {"field": "i", "type": "quantitative", "scale": {"domain": [-0.41, 132.92], "nice": false, "zero": false}, "title": null},
            "x2": {"field": "i"},
            "y": {"field": "p", "type": "quantitative", "scale": {"domain": [4766.6, 6354.3], "nice": false, "zero": false}, "title": null},
            "y2": {"field": "p"}
          }
        },
        {
          "data": {"name": "hiLabels"},
          "mark": {"type": "text", "align": "center", "baseline": "middle", "dy": -13, "fontSize": 10, "color": "#000000"},
          "encoding": {
            "x": {"field": "i", "type": "quantitative", "scale": {"domain": [-0.41, 132.92], "nice": false, "zero": false}, "title": null},
            "y": {"field": "p", "type": "quantitative", "scale": {"domain": [4766.6, 6354.3], "nice": false, "zero": false}, "title": null},
            "text": {"field": "t"}
          }
        },
        {
          "data": {"name": "loLabels"},
          "mark": {"type": "rect", "fill": "#ffffff", "stroke": "#c4c4c4", "strokeWidth": 1, "xOffset": -23, "x2Offset": 23, "yOffset": 7, "y2Offset": 21},
          "encoding": {
            "x": {"field": "i", "type": "quantitative", "scale": {"domain": [-0.41, 132.92], "nice": false, "zero": false}, "title": null},
            "x2": {"field": "i"},
            "y": {"field": "p", "type": "quantitative", "scale": {"domain": [4766.6, 6354.3], "nice": false, "zero": false}, "title": null},
            "y2": {"field": "p"}
          }
        },
        {
          "data": {"name": "loLabels"},
          "mark": {"type": "text", "align": "center", "baseline": "middle", "dy": 14, "fontSize": 10, "color": "#000000"},
          "encoding": {
            "x": {"field": "i", "type": "quantitative", "scale": {"domain": [-0.41, 132.92], "nice": false, "zero": false}, "title": null},
            "y": {"field": "p", "type": "quantitative", "scale": {"domain": [4766.6, 6354.3], "nice": false, "zero": false}, "title": null},
            "text": {"field": "t"}
          }
        },
        {
          "data": {"name": "one"},
          "mark": {"type": "text", "text": "$SPX (Daily) 6232.70", "align": "left", "baseline": "middle", "fontSize": 13.5, "color": "#000000"},
          "encoding": {
            "x": {"datum": 1.89, "type": "quantitative", "scale": {"domain": [-0.41, 132.92], "nice": false, "zero": false}, "title": null},
            "y": {"datum": 6327.2, "type": "quantitative", "scale": {"domain": [4766.6, 6354.3], "nice": false, "zero": false}, "title": null}
          }
        },
        {
          "data": {"name": "one"},
          "mark": {"type": "rule", "color": "#2a2a8c", "strokeWidth": 2.5},
          "encoding": {
            "x": {"datum": 0.16, "type": "quantitative", "scale": {"domain": [-0.41, 132.92], "nice": false, "zero": false}, "title": null},
            "x2": {"datum": 1.31},
            "y": {"datum": 6284.9, "type": "quantitative", "scale": {"domain": [4766.6, 6354.3], "nice": false, "zero": false}, "title": null}
          }
        },
        {
          "data": {"name": "one"},
          "mark": {"type": "text", "text": "KELT(21,2.0,10) 5999.08 - 6104.41 - 6209.75", "align": "left", "baseline": "middle", "fontSize": 10.5, "color": "#2a2a8c"},
          "encoding": {
            "x": {"datum": 1.54, "type": "quantitative", "scale": {"domain": [-0.41, 132.92], "nice": false, "zero": false}, "title": null},
            "y": {"datum": 6284.9, "type": "quantitative", "scale": {"domain": [4766.6, 6354.3], "nice": false, "zero": false}, "title": null}
          }
        },
        {
          "data": {"name": "navyTags"},
          "mark": {"type": "rect", "fill": "#ffffff", "stroke": "#2a2a8c", "strokeWidth": 1.2, "xOffset": 1, "x2Offset": 55, "yOffset": -6.5, "y2Offset": 6.5},
          "encoding": {
            "x": {"datum": 132.92, "type": "quantitative", "scale": {"domain": [-0.41, 132.92], "nice": false, "zero": false}, "title": null},
            "x2": {"datum": 132.92},
            "y": {"field": "p", "type": "quantitative", "scale": {"domain": [4766.6, 6354.3], "nice": false, "zero": false}, "title": null},
            "y2": {"field": "p"}
          }
        },
        {
          "data": {"name": "navyTags"},
          "mark": {"type": "text", "align": "center", "baseline": "middle", "dx": 28, "fontSize": 11, "color": "#2a2a8c"},
          "encoding": {
            "x": {"datum": 132.92, "type": "quantitative", "scale": {"domain": [-0.41, 132.92], "nice": false, "zero": false}, "title": null},
            "y": {"field": "p", "type": "quantitative", "scale": {"domain": [4766.6, 6354.3], "nice": false, "zero": false}, "title": null},
            "text": {"field": "t"}
          }
        },
        {
          "data": {"name": "one"},
          "mark": {"type": "rect", "fill": "#ffffff", "stroke": "#000000", "strokeWidth": 1.3, "xOffset": 1, "x2Offset": 55, "yOffset": -6.5, "y2Offset": 6.5},
          "encoding": {
            "x": {"datum": 132.92, "type": "quantitative", "scale": {"domain": [-0.41, 132.92], "nice": false, "zero": false}, "title": null},
            "x2": {"datum": 132.92},
            "y": {"datum": 6232.7, "type": "quantitative", "scale": {"domain": [4766.6, 6354.3], "nice": false, "zero": false}, "title": null},
            "y2": {"datum": 6232.7}
          }
        },
        {
          "data": {"name": "one"},
          "mark": {"type": "text", "text": "6232.70", "align": "center", "baseline": "middle", "dx": 28, "fontSize": 10.5, "fontWeight": "bold", "color": "#000000"},
          "encoding": {
            "x": {"datum": 132.92, "type": "quantitative", "scale": {"domain": [-0.41, 132.92], "nice": false, "zero": false}, "title": null},
            "y": {"datum": 6232.7, "type": "quantitative", "scale": {"domain": [4766.6, 6354.3], "nice": false, "zero": false}, "title": null}
          }
        }
      ]
    }
  ]
}
